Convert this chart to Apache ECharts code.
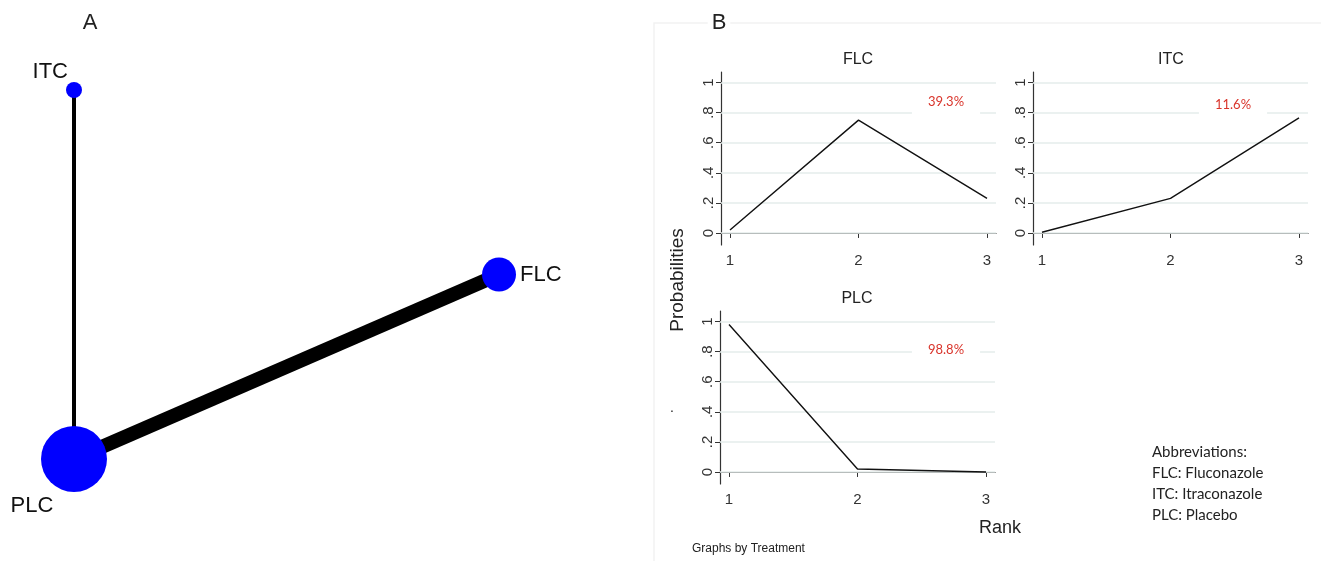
<!DOCTYPE html>
<html>
<head>
<meta charset="utf-8">
<title>Network and rankogram</title>
<script src="https://cdn.jsdelivr.net/npm/echarts@6/dist/echarts.min.js"></script>
<style>
  html, body { margin: 0; padding: 0; background: #fff; }
  #chart { width: 1321px; height: 561px; }
</style>
</head>
<body>
<div id="chart"></div>
<script>
// panel A: network nodes and edges
const nodeNames = ['ITC', 'PLC', 'FLC']
const nodeX = [0, 0, 1]
const nodeY = [1, 0, 0.5]
const nodeSize = [16, 66, 34]
const linkPairs = [[0, 1], [1, 2]]
const linkWidth = [4, 14]

// panel B: rank probabilities per treatment
const ranks = [1, 2, 3]
const treatments = ['FLC', 'ITC', 'PLC']
const probFLC = [0.02, 0.75, 0.23]
const probITC = [0.005, 0.23, 0.765]
const probPLC = [0.98, 0.02, 0.0]
const sucra = ['39.3%', '11.6%', '98.8%']
const yTicks = [0, 0.2, 0.4, 0.6, 0.8, 1]
const xTicks = [1, 2, 3]

const probs = [probFLC, probITC, probPLC]
const font = '"Liberation Sans", Arial, sans-serif'

// subplot boxes (left, top) for FLC, ITC, PLC
const boxes = [[721, 72], [1033, 72], [720, 311]]

const chart = echarts.init(document.getElementById('chart'))

const grids = [{ left: 74, top: 90, width: 425, height: 369 }]
const xAxes = [{ gridIndex: 0, type: 'value', min: 0, max: 1, show: false }]
const yAxes = [{ gridIndex: 0, type: 'value', min: 0, max: 1, show: false }]

const labelPos = [
  { position: 'left', distance: 0, offset: [2, -18] },
  { position: 'bottom', distance: 5, offset: [-42, -2] },
  { position: 'right', distance: 4, offset: [0, 0] }
]

const series = [{
  type: 'graph',
  layout: 'none',
  coordinateSystem: 'cartesian2d',
  xAxisIndex: 0,
  yAxisIndex: 0,
  symbol: 'circle',
  itemStyle: { color: '#0000ff' },
  data: nodeNames.map((n, i) => ({
    name: n,
    value: [nodeX[i], nodeY[i]],
    symbolSize: nodeSize[i],
    label: Object.assign({ show: true, formatter: n, fontSize: 22, color: '#111', fontFamily: font }, labelPos[i])
  })),
  links: linkPairs.map((p, i) => ({
    source: p[0],
    target: p[1],
    lineStyle: { width: linkWidth[i], color: '#000', opacity: 1 }
  })),
  silent: true
}]

const yFmt = v => (v === 0 ? '0' : v === 1 ? '1' : String(v).replace('0.', '.'))

boxes.forEach((b, k) => {
  const gi = k + 1
  grids.push({ left: b[0], top: b[1], width: 275, height: 173 })
  xAxes.push({
    gridIndex: gi, type: 'value', min: 0.93, max: 3.07,
    axisLine: { show: true, lineStyle: { color: '#333', width: 1.2 } },
    axisTick: { show: true, customValues: xTicks, length: 5, lineStyle: { color: '#333' } },
    axisLabel: { customValues: xTicks, fontSize: 15, color: '#333', fontFamily: font, margin: 8 },
    splitLine: { show: false }
  })
  yAxes.push({
    gridIndex: gi, type: 'value', min: -0.08, max: 1.07,
    axisLine: { show: true, lineStyle: { color: '#333', width: 1.2 } },
    axisTick: { show: true, customValues: yTicks, length: 5, lineStyle: { color: '#333' } },
    axisLabel: { customValues: yTicks, rotate: 90, fontSize: 15, color: '#333', fontFamily: font, margin: 5, formatter: yFmt },
    splitLine: { show: false }
  })
  // grid lines on their own empty series, kept under the curve
  series.push({
    type: 'line',
    xAxisIndex: gi,
    yAxisIndex: gi,
    data: [],
    z: 1,
    silent: true,
    markLine: {
      silent: true,
      symbol: 'none',
      label: { show: false },
      lineStyle: { color: '#e4eceb', type: 'solid', width: 1.5 },
      data: yTicks.map(v => ({ yAxis: v }))
    }
  })
  series.push({
    type: 'line',
    xAxisIndex: gi,
    yAxisIndex: gi,
    data: ranks.map((r, i) => [r, probs[k][i]]),
    showSymbol: false,
    z: 5,
    lineStyle: { color: '#111', width: 1.4 },
    silent: true
  })
})

const txt = (x, y, text, size, extra) => ({
  type: 'text', x, y, z: 100,
  style: Object.assign({ text, fontSize: size, fill: '#222', fontFamily: font, align: 'center', verticalAlign: 'middle' }, extra || {})
})

const graphics = [
  { type: 'rect', z: 0, shape: { x: 654, y: 23, width: 700, height: 560 }, style: { fill: 'none', stroke: '#f2f2f2', lineWidth: 1.5 } },
  txt(90, 23, 'A', 22),
  txt(719, 23, 'B', 22, { backgroundColor: '#fff', padding: [2, 4] }),
  txt(858, 60, 'FLC', 16),
  txt(1171, 60, 'ITC', 16),
  txt(857, 299, 'PLC', 16),
  txt(1000, 528, 'Rank', 18),
  txt(692, 549, 'Graphs by Treatment', 12, { align: 'left' }),
  { type: 'text', x: 678, y: 280, rotation: Math.PI / 2, z: 100,
    style: { text: 'Probabilities', fontSize: 19, fill: '#222', fontFamily: font, align: 'center', verticalAlign: 'middle' } },
  txt(672, 408, '.', 14),
  txt(1152, 484, 'Abbreviations:\nFLC: Fluconazole\nITC: Itraconazole\nPLC: Placebo', 15,
    { align: 'left', fontFamily: 'Lato, "Open Sans", sans-serif', lineHeight: 21 })
]

const pctPos = [[946, 102], [1233, 105], [946, 350]]
sucra.forEach((s, i) => {
  graphics.push(txt(pctPos[i][0], pctPos[i][1], s, 13,
    { fill: '#d9342b', fontFamily: 'Lato, "Open Sans", sans-serif', backgroundColor: '#fff', padding: [9, 16] }))
})

chart.setOption({
  animation: false,
  grid: grids,
  xAxis: xAxes,
  yAxis: yAxes,
  series,
  graphic: graphics
})
</script>
</body>
</html>
